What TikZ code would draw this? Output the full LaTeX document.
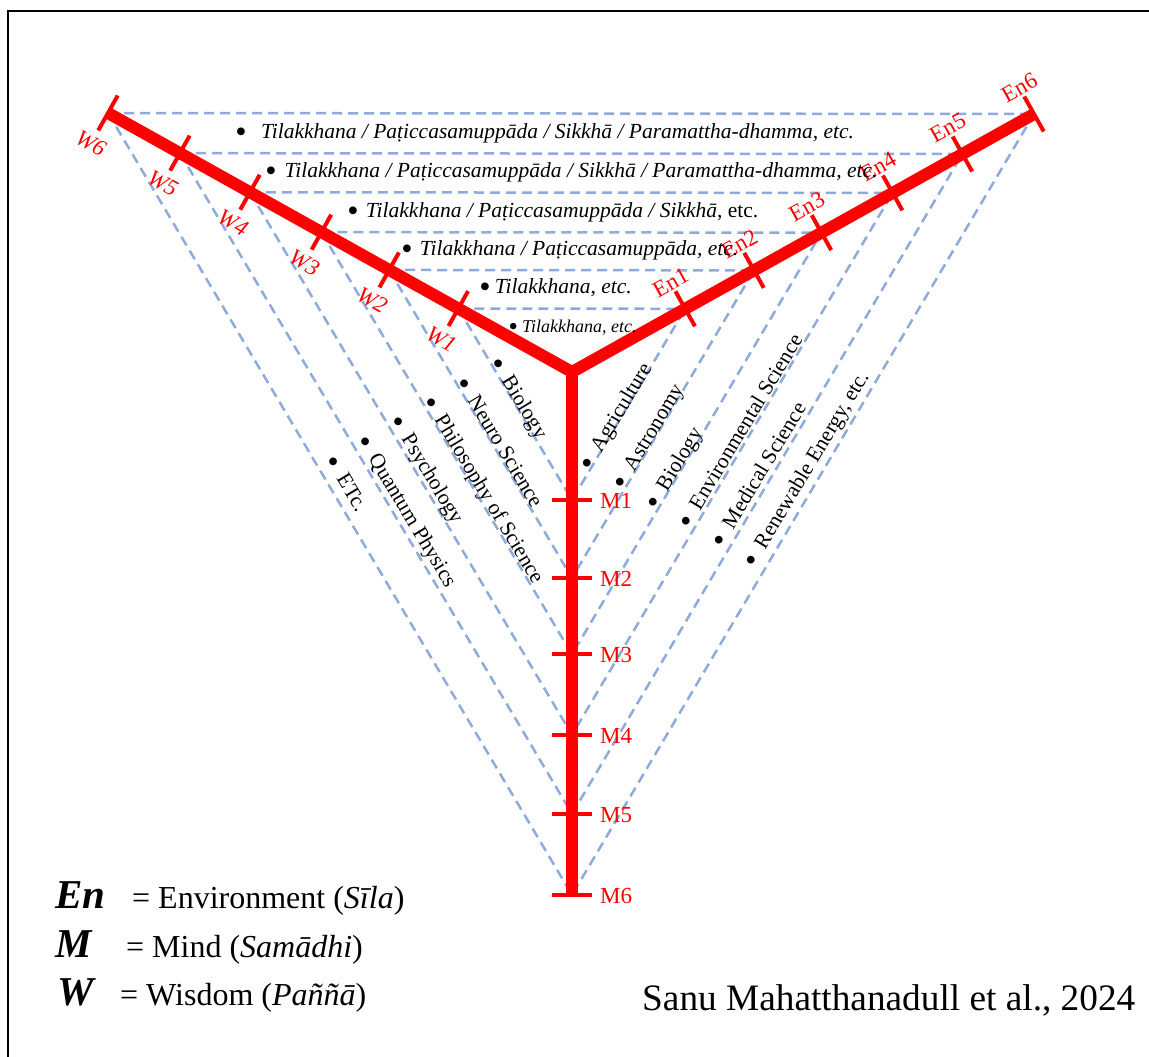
\documentclass[tikz,border=0pt]{standalone}
\usepackage{fontspec}
\setmainfont{Liberation Serif}
\usetikzlibrary{calc}
\definecolor{armred}{RGB}{255,0,0}
\definecolor{guideblue}{RGB}{143,170,220}
% a round bullet a little larger than the font's own
\newcommand\bul{\makebox[0.36em]{\raisebox{-0.2em}{\scalebox{1.5}{\textbullet}}}}
\begin{document}
\begin{tikzpicture}[x=1pt,y=-1pt,
  armline/.style={draw=armred,line width=12pt},
  tickmark/.style={draw=armred,line width=4pt},
  guide/.style={draw=guideblue,line width=2.5pt,dash pattern=on 10pt off 6pt},
  lvl/.style={text=armred,font=\fontsize{23}{27}\selectfont,inner sep=0pt},
  wlvl/.style={lvl,font=\fontsize{23}{27}\selectfont\itshape},
  rowtext/.style={font=\fontsize{21.5}{26}\selectfont,anchor=base west,inner sep=0pt},
  field/.style={font=\fontsize{21.5}{26}\selectfont,anchor=base west,inner sep=0pt},
  keysym/.style={font=\fontsize{41}{46}\selectfont\bfseries\itshape,anchor=base west,inner sep=0pt},
  keytext/.style={font=\fontsize{32}{38}\selectfont,anchor=base west,inner sep=0pt},
]
\useasboundingbox (0,0) rectangle (1149,1057);
% frame
\draw[line width=2pt] (8,1057) -- (8,11) -- (1149,11);

% the three arms meet at J
\coordinate (J) at (572,372);
\coordinate (W6) at (108,113);
\coordinate (En6) at (1034,114);
\coordinate (M6) at (572,895);
\foreach \k/\t in {1/0.245,2/0.394,3/0.54,4/0.694,5/0.845}{
  \coordinate (W\k) at ($(J)!\t!(W6)$);
  \coordinate (En\k) at ($(J)!\t!(En6)$);
  \coordinate (M\k) at ($(J)!\t!(M6)$);
}

% dashed level triangles
\foreach \k in {1,...,6}{
  \draw[guide] (W\k) -- (En\k);
  \draw[guide] (W\k) -- (M\k) -- (En\k);
}

% arms
\draw[armline,line join=miter] (W6) -- (J) -- (En6);
\draw[armline] (J) -- (M6);

% ticks and level labels
\foreach \k in {1,...,6}{
  \draw[tickmark] ($(W\k)!20pt!90:(J)$) -- ($(W\k)!20pt!-90:(J)$);
  \draw[tickmark] ($(En\k)!20pt!90:(J)$) -- ($(En\k)!20pt!-90:(J)$);
  \draw[tickmark] ($(M\k)!20pt!90:(J)$) -- ($(M\k)!20pt!-90:(J)$);
  \node[wlvl,rotate=-29.2] (wl\k) at ($(W\k)!35pt!-90:(J)$) {W\k};
  \node[lvl,rotate=29.2] (el\k) at ($(En\k)!30pt!-90:(J)$) {En\k};
  \node[lvl,anchor=west] (ml\k) at ($(M\k)+(28,1)$) {M\k};
}

% horizontal rows
\node[rowtext] (r1) at (237,138) {\bul\hspace{0.75em}\textit{Tilakkhana / Paṭiccasamuppāda / Sikkhā / Paramattha-dhamma, etc.}};
\node[rowtext] (r2) at (267,177) {\bul\hspace{0.45em}\textit{Tilakkhana / Paṭiccasamuppāda / Sikkhā / Paramattha-dhamma, etc.}};
\node[rowtext] (r3) at (349,217) {\bul\hspace{0.42em}\textit{Tilakkhana / Paṭiccasamuppāda / Sikkhā}, etc.};
\node[rowtext] (r4) at (403,255) {\bul\hspace{0.42em}\textit{Tilakkhana / Paṭiccasamuppāda, etc.}};
\node[rowtext] (r5) at (481,293) {\bul\hspace{0.28em}\textit{Tilakkhana, etc.}};
\node[rowtext,font=\fontsize{18}{22}\selectfont] (r6) at (510,332) {\bul\hspace{0.3em}\textit{Tilakkhana, etc.}};

% wisdom-side fields
\node[field,rotate=-59] (f1) at (491,364) {\bul\hspace{0.55em}Biology};
\node[field,rotate=-59] (f2) at (457,384) {\bul\hspace{0.55em}Neuro Science};
\node[field,rotate=-59] (f3) at (424,403) {\bul\hspace{0.55em}Philosophy of Science};
\node[field,rotate=-59] (f4) at (391,422) {\bul\hspace{0.55em}Psychology};
\node[field,rotate=-59] (f5) at (358,442) {\bul\hspace{0.55em}Quantum Physics};
\node[field,rotate=-59] (f6) at (326,462) {\bul\hspace{0.55em}ETc.};

% environment-side fields
\node[field,rotate=59] (g1) at (591,470) {\bul\hspace{0.55em}Agriculture};
\node[field,rotate=59] (g2) at (624,489) {\bul\hspace{0.55em}Astronomy};
\node[field,rotate=59] (g3) at (657,509) {\bul\hspace{0.55em}Biology};
\node[field,rotate=59] (g4) at (690,528) {\bul\hspace{0.55em}Environmental Science};
\node[field,rotate=59] (g5) at (723,547) {\bul\hspace{0.55em}Medical Science};
\node[field,rotate=59] (g6) at (755,567) {\bul\hspace{0.55em}Renewable Energy, etc.};

% key
\node[keysym] (kEn) at (55,908) {En};
\node[keytext] (dEn) at (132,908) {= Environment (\textit{Sīla})};
\node[keysym] (kM) at (55,957) {M};
\node[keytext] (dM) at (126,957) {= Mind (\textit{Samādhi})};
\node[keysym] (kW) at (57,1005) {W};
\node[keytext] (dW) at (120,1005) {= Wisdom (\textit{Paññā})};

\node[font=\fontsize{37.3}{44}\selectfont,anchor=base west,inner sep=0pt] (credit) at (642,1010) {Sanu Mahatthanadull et al., 2024};
\end{tikzpicture}
\end{document}
